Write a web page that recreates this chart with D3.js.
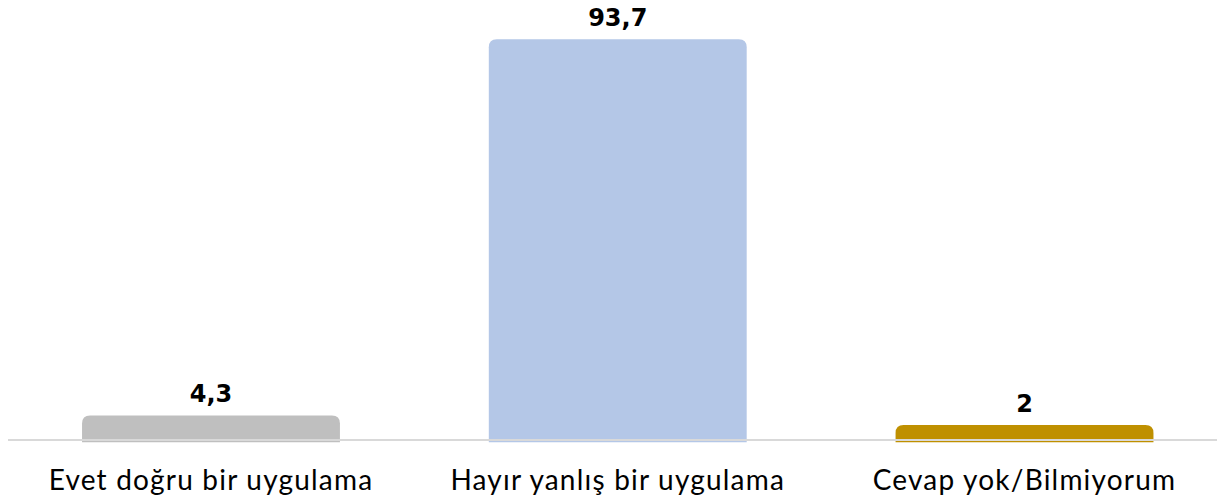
<!DOCTYPE html>
<html>
<head>
<meta charset="utf-8">
<script src="https://cdn.jsdelivr.net/npm/d3@7"></script>
<style>
  html, body { margin: 0; padding: 0; background: #ffffff; }
  svg { display: block; }
</style>
</head>
<body>
<svg id="chart" width="1217" height="500"></svg>
<script>
const categories = ["Evet doğru bir uygulama", "Hayır yanlış bir uygulama", "Cevap yok/Bilmiyorum"];
const values = [4.3, 93.7, 2];
const valueLabels = ["4,3", "93,7", "2"];
const colors = ["#bfbfbf", "#b4c7e7", "#bf9000"];

const svg = d3.select("#chart");
const W = 1217, H = 500;

const x = d3.scaleBand().domain(categories).range([7.6, 1227.9]).paddingInner(0.366).paddingOuter(0.183);
const y = d3.scaleLinear().domain([-2.1, 93.7]).range([442.3, 39.3]);
const r = 8;

function barPath(x0, w, yTop, yBot) {
  const rr = Math.min(r, (yBot - yTop), w / 2);
  return `M${x0},${yBot} L${x0},${yTop + rr} Q${x0},${yTop} ${x0 + rr},${yTop} L${x0 + w - rr},${yTop} Q${x0 + w},${yTop} ${x0 + w},${yTop + rr} L${x0 + w},${yBot} Z`;
}

const data = categories.map((c, i) => ({ c, v: values[i], label: valueLabels[i], color: colors[i] }));

svg.selectAll("path.bar").data(data).enter().append("path")
  .attr("class", "bar")
  .attr("d", d => barPath(x(d.c), x.bandwidth(), y(d.v), y(-2.1)))
  .attr("fill", d => d.color);

// baseline
svg.append("line")
  .attr("x1", 8).attr("x2", W)
  .attr("y1", 440).attr("y2", 440)
  .attr("stroke", "#d9d9d9").attr("stroke-width", 2);

// value labels
svg.selectAll("text.val").data(data).enter().append("text")
  .attr("class", "val")
  .attr("x", d => x(d.c) + x.bandwidth() / 2)
  .attr("y", d => y(d.v) - 13.5)
  .attr("text-anchor", "middle")
  .attr("font-family", "'DejaVu Sans', sans-serif")
  .attr("font-weight", "bold")
  .attr("font-size", 24)
  .attr("fill", "#000")
  .text(d => d.label);

// category labels
svg.selectAll("text.cat").data(data).enter().append("text")
  .attr("class", "cat")
  .attr("x", d => x(d.c) + x.bandwidth() / 2)
  .attr("y", 489.5)
  .attr("text-anchor", "middle")
  .attr("font-family", "Lato, 'Noto Sans', sans-serif")
  .attr("font-size", 28)
  .attr("letter-spacing", 1.2)
  .attr("fill", "#000")
  .text(d => d.c);
</script>
</body>
</html>
